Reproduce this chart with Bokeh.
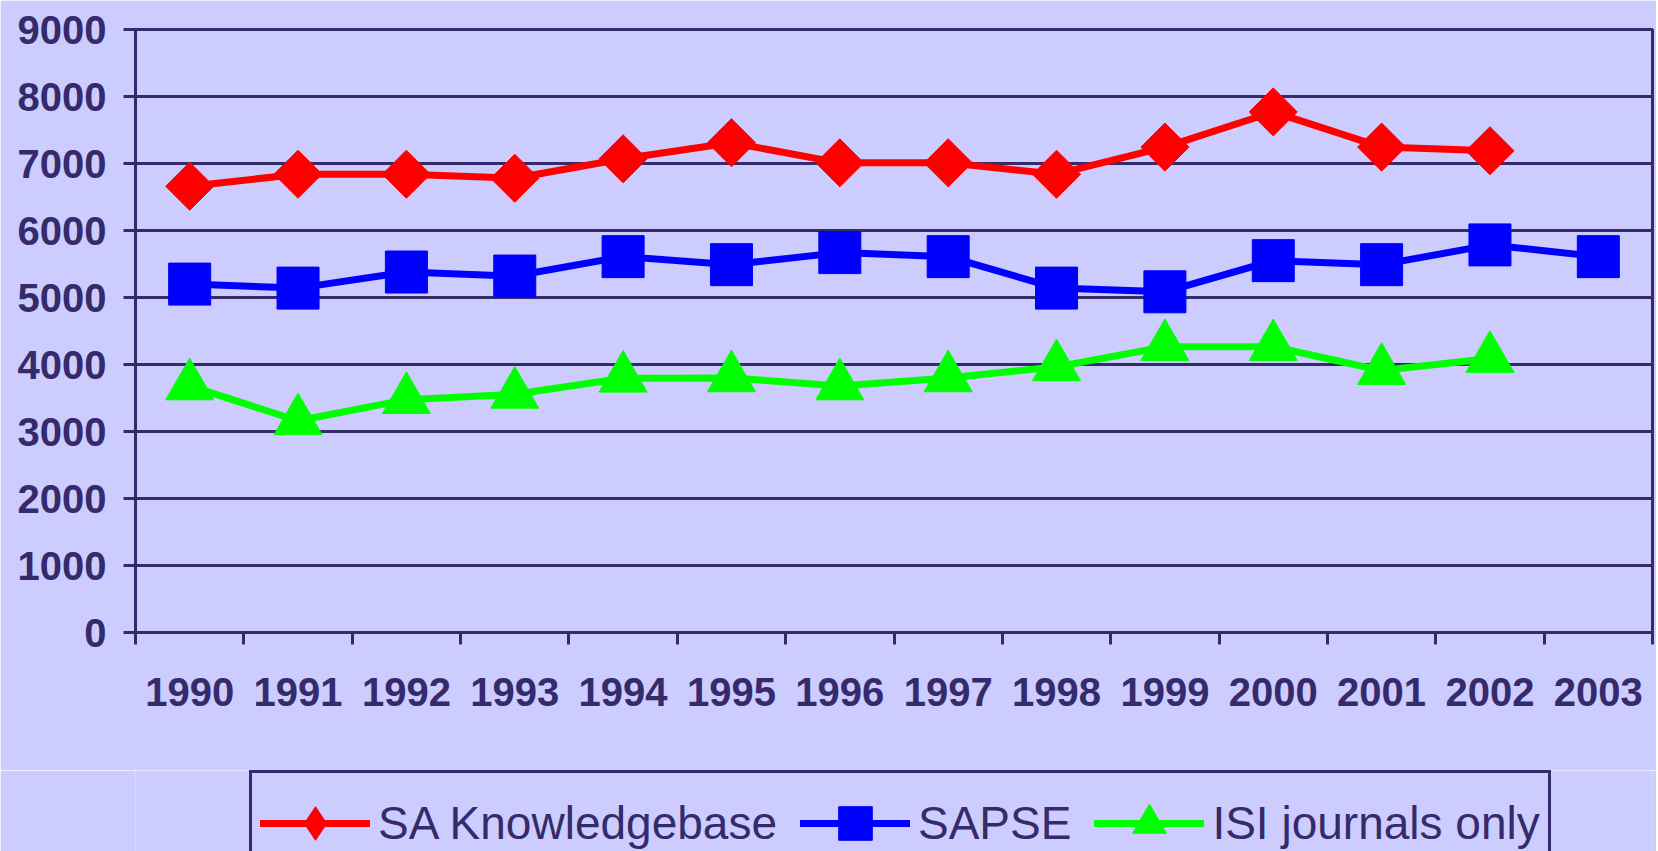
import math
from bokeh.plotting import figure
from bokeh.layouts import column
from bokeh.models import Range1d, FixedTicker, Legend, LegendItem
from bokeh.embed import file_html
from bokeh.resources import INLINE

years = [str(y) for y in range(1990, 2004)]
sa_knowledgebase = [6660, 6840, 6840, 6780, 7070, 7310, 7010, 7010, 6840, 7245, 7770, 7245, 7190]
sapse = [5200, 5140, 5380, 5320, 5610, 5490, 5670, 5610, 5140, 5085, 5550, 5490, 5785, 5610]
isi_journals = [3680, 3160, 3475, 3555, 3795, 3800, 3680, 3800, 3965, 4265, 4265, 3910, 4090]
y_ticks = [0, 1000, 2000, 3000, 4000, 5000, 6000, 7000, 8000, 9000]

DARK = "#352a6b"
BG = "#ccccff"
FONT = "Liberation Sans"

xpos = [i + 0.5 for i in range(len(years))]

W = 1656
CHART_H = 770
LEG_H = 81

p = figure(width=W, height=CHART_H,
           x_range=Range1d(0, len(years)), y_range=Range1d(0, 9000),
           output_backend="svg", toolbar_location=None,
           min_border_left=135, min_border_right=4, min_border_top=29,
           min_border_bottom=CHART_H - 632)

p.background_fill_color = BG
p.border_fill_color = BG
p.outline_line_color = DARK
p.outline_line_width = 3

# x axis: labels at category centres, tick marks at category boundaries
p.xaxis.ticker = FixedTicker(ticks=xpos, minor_ticks=list(range(len(years) + 1)))
p.xaxis.major_label_overrides = {x: y for x, y in zip(xpos, years)}
p.xaxis.major_tick_out = 0
p.xaxis.major_tick_in = 0
p.xaxis.minor_tick_out = 12
p.xaxis.minor_tick_in = 0
p.xaxis.minor_tick_line_color = DARK
p.xaxis.minor_tick_line_width = 3
p.xaxis.axis_line_color = DARK
p.xaxis.axis_line_width = 3
p.xaxis.major_label_standoff = 33
p.xaxis.major_label_text_font = FONT
p.xaxis.major_label_text_font_style = "bold"
p.xaxis.major_label_text_font_size = "40px"
p.xaxis.major_label_text_color = DARK

# y axis
p.yaxis.ticker = FixedTicker(ticks=y_ticks, minor_ticks=[])
p.yaxis.major_tick_out = 12
p.yaxis.major_tick_in = 0
p.yaxis.major_tick_line_color = DARK
p.yaxis.major_tick_line_width = 3
p.yaxis.axis_line_color = DARK
p.yaxis.axis_line_width = 3
p.yaxis.major_label_standoff = 17
p.yaxis.major_label_text_font = FONT
p.yaxis.major_label_text_font_style = "bold"
p.yaxis.major_label_text_font_size = "40px"
p.yaxis.major_label_text_color = DARK

p.xgrid.visible = False
p.ygrid.ticker = FixedTicker(ticks=y_ticks)
p.ygrid.grid_line_color = DARK
p.ygrid.grid_line_width = 3

# label, values, colour, chart marker, chart angle, chart size, legend marker
series = [
    ("SA Knowledgebase", sa_knowledgebase, "#ff0000", "square", math.pi / 4, 34, "diamond"),
    ("SAPSE", sapse, "#0000ff", "square", 0, 42, "square"),
    ("ISI journals only", isi_journals, "#00ff00", "triangle", 0, 48, "triangle"),
]

# separate strip for the legend, below the chart
pl = figure(width=W, height=LEG_H, x_range=Range1d(0, 1), y_range=Range1d(0, 1),
            output_backend="svg", toolbar_location=None,
            min_border_left=135, min_border_right=4, min_border_top=0, min_border_bottom=0)
pl.axis.visible = False
pl.grid.visible = False
pl.outline_line_color = None
pl.background_fill_color = BG
pl.border_fill_color = BG

items = []
for label, vals, color, marker, angle, size, key_marker in series:
    xs = xpos[:len(vals)]
    p.line(xs, vals, line_color=color, line_width=7, line_join="round")
    p.scatter(xs, vals, marker=marker, angle=angle, size=size,
              fill_color=color, line_color=color)
    # key renderers kept outside the strip's visible range; only the legend shows them
    kl = pl.line([-10, -9], [-10, -10], line_color=color, line_width=7, line_cap="round")
    ks = pl.scatter([-10], [-10], marker=key_marker, size=size,
                    fill_color=color, line_color=color)
    items.append(LegendItem(label=label, renderers=[kl, ks]))

legend = Legend(items=items, orientation="horizontal", location=(114, -25),
                glyph_width=110, glyph_height=84, label_standoff=8, spacing=23,
                padding=8, margin=0,
                label_text_font=FONT, label_text_font_size="46px", label_text_color=DARK,
                border_line_color=DARK, border_line_width=3, border_line_alpha=1.0,
                background_fill_color=BG, background_fill_alpha=1.0)
pl.add_layout(legend, "center")

layout = column(p, pl, spacing=0)
open("out.html", "w").write(file_html(layout, INLINE))
